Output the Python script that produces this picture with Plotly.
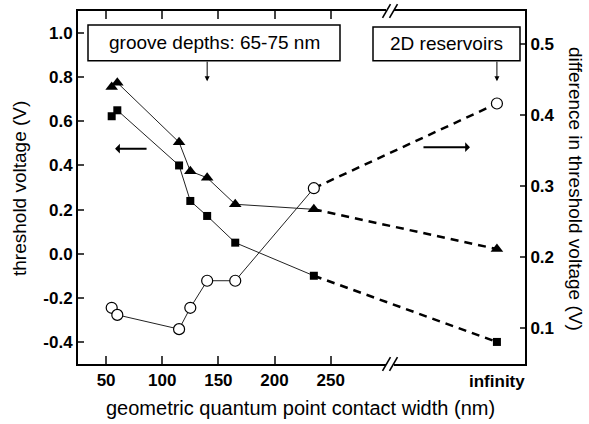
import plotly.graph_objects as go

# ---- data ----
INF_X = 398  # plotting position used for "infinity"
widths = [55, 60, 115, 125, 140, 165, 235, INF_X]
tri_v = [0.755, 0.775, 0.505, 0.374, 0.344, 0.224, 0.201, 0.021]
sq_v = [0.623, 0.650, 0.400, 0.239, 0.171, 0.050, -0.100, -0.400]
diff_v = [0.129, 0.119, 0.099, 0.129, 0.167, 0.167, 0.297, 0.416]

x_ticks = [50, 100, 150, 200, 250]
y_ticks = [-0.4, -0.2, 0.0, 0.2, 0.4, 0.6, 0.8, 1.0]
y_ticktext = ["-0.4", "-0.2", "0.0", "0.2", "0.4", "0.6", "0.8", "1.0"]
y2_ticks = [0.1, 0.2, 0.3, 0.4, 0.5]

W, H = 589, 424
L, R, T, B = 78, 64, 9, 60
XR = [25, 423]
YR = [-0.5, 1.1]
Y2R = [0.05, 0.546]

FONT = "Liberation Sans, Arial, sans-serif"

fig = go.Figure()

def add_series(y, marker, yaxis):
    fig.add_trace(go.Scatter(x=widths[:7], y=y[:7], mode="lines", yaxis=yaxis,
                             line=dict(color="#222", width=1.0), showlegend=False,
                             hoverinfo="skip"))
    fig.add_trace(go.Scatter(x=widths[6:], y=y[6:], mode="lines", yaxis=yaxis,
                             line=dict(color="black", width=2.5, dash="8px,6px"),
                             showlegend=False, hoverinfo="skip"))
    fig.add_trace(go.Scatter(x=widths, y=y, mode="markers", yaxis=yaxis,
                             marker=marker, showlegend=False))

add_series(tri_v, dict(symbol="triangle-up", size=11, color="black"), "y")
add_series(sq_v, dict(symbol="square", size=8, color="black"), "y")
add_series(diff_v, dict(symbol="circle", size=11, color="white",
                        line=dict(color="black", width=1.2)), "y2")

tickfont = dict(family=FONT, size=17, color="black", weight="bold")
txtfont = dict(family=FONT, size=19, color="black")

fig.update_layout(
    width=W, height=H,
    margin=dict(l=L, r=R, t=T, b=B),
    paper_bgcolor="white", plot_bgcolor="white",
    xaxis=dict(range=XR, tickvals=x_ticks, ticks="inside", ticklen=8,
               tickwidth=1.5, showline=True, linecolor="black", linewidth=2,
               mirror="ticks", showgrid=False, zeroline=False, tickfont=tickfont),
    yaxis=dict(range=YR, tickvals=y_ticks, ticktext=y_ticktext, ticks="inside",
               ticklen=6, tickwidth=1.5, showline=True, linecolor="black",
               linewidth=2, showgrid=False, zeroline=False, tickfont=tickfont),
    yaxis2=dict(range=Y2R, tickvals=y2_ticks, tickformat=".1f", ticks="inside",
                ticklen=5, tickwidth=1.5, showline=True, linecolor="black",
                linewidth=2, showgrid=False, zeroline=False, overlaying="y",
                side="right", tickfont=tickfont),
)

pw = W - L - R
ph = H - T - B

def px_x(px):
    return (px - L) / pw

def px_y(py):
    return (H - B - py) / ph

shapes = []
# axis break marks on top and bottom axes
bx = 390
for yc in (T, H - B):
    shapes.append(dict(type="rect", xref="paper", yref="paper", layer="above",
                       x0=px_x(bx - 4), x1=px_x(bx + 4),
                       y0=px_y(yc + 2), y1=px_y(yc - 2),
                       fillcolor="white", line=dict(width=0)))
    for dx in (-3.5, 3.5):
        shapes.append(dict(type="line", xref="paper", yref="paper", layer="above",
                           x0=px_x(bx + dx - 4), y0=px_y(yc + 7),
                           x1=px_x(bx + dx + 4), y1=px_y(yc - 7),
                           line=dict(color="black", width=1.6)))
# label boxes
for (x0, x1, y0, y1) in ((88, 340, 23, 59), (373, 520, 25, 59)):
    shapes.append(dict(type="rect", xref="paper", yref="paper", layer="above",
                       x0=px_x(x0), x1=px_x(x1), y0=px_y(y1), y1=px_y(y0),
                       fillcolor="white", line=dict(color="black", width=1.5)))
fig.update_layout(shapes=shapes)

ann = []
ann.append(dict(xref="paper", yref="paper", x=px_x(214), y=px_y(41),
                xanchor="center", yanchor="middle",
                text="groove depths: 65-75 nm", showarrow=False, font=txtfont))
ann.append(dict(xref="paper", yref="paper", x=px_x(446.5), y=px_y(42),
                xanchor="center", yanchor="middle",
                text="2D reservoirs", showarrow=False, font=txtfont))
# vertical pointers
for xv in (140, INF_X):
    ann.append(dict(x=xv, y=0.782, xref="x", yref="y", text="", showarrow=True,
                    ax=0, ay=-21, arrowhead=2, arrowsize=1, arrowwidth=1,
                    arrowcolor="black"))
# horizontal arrows indicating axes
ann.append(dict(x=58, y=0.476, xref="x", yref="y", text="", showarrow=True,
                ax=33, ay=0, arrowhead=1, arrowsize=0.8, arrowwidth=2,
                arrowcolor="black"))
ann.append(dict(x=374, y=0.483, xref="x", yref="y", text="", showarrow=True,
                ax=-48, ay=0, arrowhead=1, arrowsize=0.8, arrowwidth=2,
                arrowcolor="black"))
# infinity tick label
ann.append(dict(x=INF_X, xref="x", yref="paper", y=px_y(382),
                xanchor="center", yanchor="middle",
                text="infinity", showarrow=False, font=tickfont))
# axis titles
ann.append(dict(xref="paper", yref="paper", x=px_x(300), y=px_y(408),
                xanchor="center", yanchor="middle",
                text="geometric quantum point contact width (nm)", showarrow=False,
                font=dict(family=FONT, size=20, color="black")))
ann.append(dict(xref="paper", yref="paper", x=px_x(20), y=px_y(188),
                xanchor="center", yanchor="middle",
                text="threshold voltage (V)", showarrow=False, textangle=-90,
                font=txtfont))
ann.append(dict(xref="paper", yref="paper", x=px_x(575), y=px_y(188),
                xanchor="center", yanchor="middle",
                text="difference in threshold voltage (V)", showarrow=False,
                textangle=90, font=txtfont))
fig.update_layout(annotations=ann)

fig.write_html("out.html")
